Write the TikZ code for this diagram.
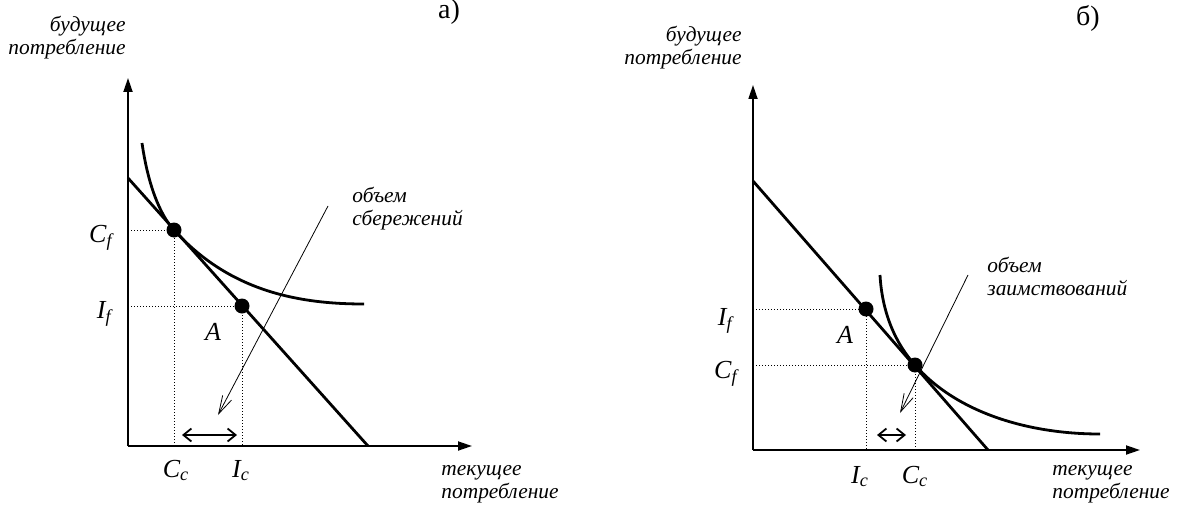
\documentclass[tikz,border=0pt]{standalone}
\usepackage{fontspec}
\setmainfont{Liberation Serif}
\usetikzlibrary{arrows.meta}
\tikzset{
  axis/.style={line width=0.9pt,-{Triangle[length=7pt,width=4.5pt]}},
  budget/.style={line width=1.4pt},
  indiff/.style={line width=1.4pt},
  guide/.style={line width=0.4pt,dash pattern=on 0.5pt off 1pt},
  pt/.style={circle,fill,inner sep=0pt,minimum size=7.5pt},
  note/.style={line width=0.4pt,-{Straight Barb[length=9pt,width=5pt]}},
  gap/.style={line width=0.9pt,{Straight Barb[length=4pt,width=6.5pt]}-{Straight Barb[length=4pt,width=6.5pt]}},
  word/.style={font=\fontsize{10.7}{11.5}\selectfont\itshape,inner sep=0pt},
  sym/.style={font=\fontsize{13}{15}\selectfont\itshape,inner sep=0pt},
  tag/.style={font=\fontsize{14}{16}\selectfont,inner sep=0pt},
}
\newcommand{\lbl}[2]{#1\textsubscript{#2}}
\begin{document}
\begin{tikzpicture}[x=0.5pt,y=-0.5pt]
  \useasboundingbox (0,0) rectangle (1181,508);
  % a) savings
  \coordinate (oa) at (128,446);
  \coordinate (ya) at (128,78);
  \coordinate (xa) at (472,446);
  \draw[axis] (oa) -- (ya);
  \draw[axis] (oa) -- (xa);
  \node[pt] (Ca) at (174,230) {};
  \node[pt] (Aa) at (242,306) {};
  \coordinate (ba) at (128,178);
  \coordinate (ea) at (368,446);
  \draw[budget] (ba) -- (ea);
  \draw[indiff] (142,143) .. controls (148,185) and (160,215) .. (Ca.center)
    .. controls (230,292) and (300,304) .. (364,304);
  \draw[guide] (oa |- Ca) -- (Ca.center) -- (Ca |- oa);
  \draw[guide] (oa |- Aa) -- (Aa.center) -- (Aa |- oa);
  \coordinate (ga1) at (182,435);
  \coordinate (ga2) at (237,435);
  \draw[gap] (ga1) -- (ga2);
  \coordinate (sa) at (328,206);
  \coordinate (ta) at (218,415);
  \draw[note] (sa) -- (ta);
  \node[sym,anchor=base east] (Cfa) at (113,242) {\lbl{C}{f}};
  \node[sym,anchor=base east] (Ifa) at (112,318) {\lbl{I}{f}};
  \node[sym,anchor=base] (Cca) at (176,477) {\lbl{C}{c}};
  \node[sym,anchor=base] (Ica) at (241,477) {\lbl{I}{c}};
  \node[sym,anchor=base] (Ala) at (213,340) {A};
  \node[word,anchor=base east,align=right] (fua) at (126,55) {будущее\\потребление};
  \node[word,anchor=base west,align=left] (cua) at (441,498) {текущее\\потребление};
  \node[word,anchor=base west,align=left] (sva) at (352,225) {объем\\сбережений};
  \node[tag,anchor=base] (ta1) at (449,19) {а)};
  % b) borrowing
  \coordinate (ob) at (753,450);
  \coordinate (yb) at (753,85);
  \coordinate (xb) at (1140,450);
  \draw[axis] (ob) -- (yb);
  \draw[axis] (ob) -- (xb);
  \node[pt] (Ab) at (866,309) {};
  \node[pt] (Cb) at (915,365) {};
  \coordinate (bb) at (753,181);
  \coordinate (eb) at (988,450);
  \draw[budget] (bb) -- (eb);
  \draw[indiff] (880,275) .. controls (882,312) and (895,343) .. (Cb.center)
    .. controls (955,411) and (1025,434) .. (1100,434);
  \draw[guide] (ob |- Ab) -- (Ab.center) -- (Ab |- ob);
  \draw[guide] (ob |- Cb) -- (Cb.center) -- (Cb |- ob);
  \coordinate (gb1) at (877,435);
  \coordinate (gb2) at (906,435);
  \draw[gap] (gb1) -- (gb2);
  \coordinate (sb) at (968,275);
  \coordinate (tb) at (900,413);
  \draw[note] (sb) -- (tb);
  \node[sym,anchor=base east] (Ifb) at (733,325) {\lbl{I}{f}};
  \node[sym,anchor=base east] (Cfb) at (738,378) {\lbl{C}{f}};
  \node[sym,anchor=base] (Icb) at (860,483) {\lbl{I}{c}};
  \node[sym,anchor=base] (Ccb) at (915,483) {\lbl{C}{c}};
  \node[sym,anchor=base] (Alb) at (845,343) {A};
  \node[word,anchor=base east,align=right] (fub) at (742,65) {будущее\\потребление};
  \node[word,anchor=base west,align=left] (cub) at (1052,498) {текущее\\потребление};
  \node[word,anchor=base west,align=left] (bob) at (987,295) {объем\\заимствований};
  \node[tag,anchor=base] (tb1) at (1088,26) {б)};
\end{tikzpicture}
\end{document}
